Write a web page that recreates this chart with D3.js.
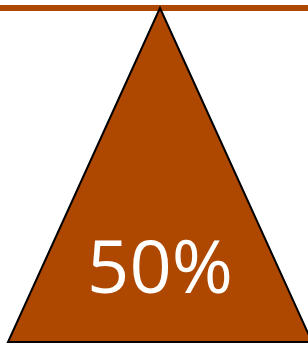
<!DOCTYPE html>
<html><head><meta charset="utf-8">
<script src="https://cdn.jsdelivr.net/npm/d3@7"></script>
<style>html,body{margin:0;padding:0;background:#fff;overflow:hidden}</style>
</head><body>
<svg id="c" width="308" height="347"></svg>
<script>
const categories = ["Share"];
const values = [0.5];
const labels = ["50%"];

const W = 308, H = 347;
const svg = d3.select("#c");
const x = d3.scaleLinear().domain([0, 1]).range([8, 312]);
const y = d3.scaleLinear().domain([0, 1]).range([342, 8]);
const color = "#ae4800";

// beam
svg.append("rect")
  .attr("x", 0).attr("y", 5).attr("width", W).attr("height", 6)
  .attr("fill", color);

values.forEach((v, i) => {
  const pts = [[x(v), y(1)], [x(0), y(0)], [x(1), y(0)]];
  svg.append("path")
    .attr("d", d3.line()(pts) + "Z")
    .attr("fill", color)
    .attr("stroke", "#000")
    .attr("stroke-width", 2)
    .attr("stroke-linejoin", "miter");
  svg.append("text")
    .attr("x", x(v)).attr("y", 293)
    .attr("text-anchor", "middle")
    .attr("font-family", "'Open Sans', sans-serif")
    .attr("font-size", 74)
    .attr("fill", "#fff")
    .text(labels[i]);
});
</script>
</body></html>
